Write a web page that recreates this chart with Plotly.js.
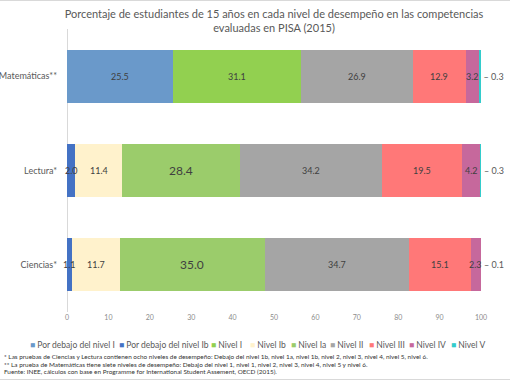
<!DOCTYPE html>
<html>
<head>
<meta charset="utf-8">
<script src="https://cdn.plot.ly/plotly-3.0.1.min.js"></script>
<style>
  html, body { margin: 0; padding: 0; background: #fff; }
  #chart { width: 510px; height: 382px; }
</style>
</head>
<body>
<div id="chart"></div>
<script>
// ---- data ----
const categories = ['Matemáticas**', 'Lectura*', 'Ciencias*'];
const seriesNames = ['Por debajo del nivel I', 'Por debajo del nivel Ib', 'Nivel I', 'Nivel Ib', 'Nivel Ia', 'Nivel II', 'Nivel III', 'Nivel IV', 'Nivel V'];
const debajoNivelI  = [25.5, null, null];
const debajoNivelIb = [null, 2.0, 1.1];
const nivelI        = [31.1, null, null];
const nivelIb       = [null, 11.4, 11.7];
const nivelIa       = [null, 28.4, 35.0];
const nivelII       = [26.9, 34.2, 34.7];
const nivelIII      = [12.9, 19.5, 15.1];
const nivelIV       = [3.2, 4.2, 2.3];
const nivelV        = [0.3, 0.3, 0.1];
const xTickVals = [0, 10, 20, 30, 40, 50, 60, 70, 80, 90, 100];
const titleText = 'Porcentaje de estudiantes de 15 años en cada nivel de desempeño en las competencias<br>evaluadas en PISA (2015)';
const footnotes = [
  '* Las pruebas de Ciencias y Lectura contienen ocho niveles de desempeño: Debajo del nivel 1b, nivel 1a, nivel 1b, nivel 2, nivel 3, nivel 4, nivel 5, nivel 6.',
  '** La prueba de Matemáticas tiene siete niveles de desempeño: Debajo del nivel 1, nivel 1, nivel 2, nivel 3, nivel 4, nivel 5 y nivel 6.',
  'Fuente: INEE, cálculos con base en Programme for International Student Assement, OECD (2015).'
];

// ---- styles ----
const colors = ['#6a99ca', '#4472c4', '#92d050', '#fff2cc', '#9bcc6b', '#a5a5a5', '#ff7878', '#c6689c', '#33cccc'];
const allSeries = [debajoNivelI, debajoNivelIb, nivelI, nivelIb, nivelIa, nivelII, nivelIII, nivelIV, nivelV];
const FONT = 'Lato, "Open Sans", sans-serif';
const W = 510, H = 382, L = 67, R = 29, T = 29, B = 70;
const px2x = p => (p - L) / (W - L - R);
const px2y = p => (H - B - p) / (H - T - B);

const fmt = v => (v == null ? '' : v.toFixed(1));

const traces = allSeries.map((vals, i) => {
  const isLast = i === allSeries.length - 1;
  return {
    type: 'bar',
    orientation: 'h',
    name: seriesNames[i],
    y: categories,
    x: vals,
    width: 0.56,
    marker: { color: colors[i], line: { width: 0 } },
    text: isLast ? vals.map(v => '– ' + fmt(v)) : undefined,
    textposition: isLast ? 'outside' : 'none',
    textangle: 0,
    constraintext: 'none',
    cliponaxis: false,
    textfont: { family: FONT, color: '#595959', size: 9 },
    hoverinfo: 'x+name'
  };
});

const annotations = [];
// inside labels, drawn on top of all bars (centered on each segment)
const cum = categories.map(() => 0);
allSeries.forEach((vals, i) => {
  const isLast = i === allSeries.length - 1;
  vals.forEach((v, j) => {
    if (v == null) return;
    if (!isLast) {
      const big = seriesNames[i] === 'Nivel Ia' && v > 25;
      annotations.push({
        xref: 'x', yref: 'y',
        x: cum[j] + v / 2, y: categories[j],
        showarrow: false,
        text: fmt(v),
        font: { family: FONT, color: '#404040', size: big ? 12 : 9 }
      });
    }
    cum[j] += v;
  });
});

// custom legend (one row, compact as in reference)
const legendPx = [28, 117, 209, 248, 289, 328, 367, 407, 449];
seriesNames.forEach((n, i) => annotations.push({
  xref: 'paper', yref: 'paper',
  x: px2x(legendPx[i]), y: px2y(345),
  xanchor: 'left', yanchor: 'middle',
  showarrow: false,
  text: '<span style="color:' + colors[i] + '">■</span> ' + n,
  font: { family: FONT, size: 8.5, color: '#595959' }
}));
const footY = [356, 364, 371.5];
footnotes.forEach((f, i) => {
  annotations.push({
    xref: 'paper', yref: 'paper',
    x: px2x(2), y: px2y(footY[i]),
    xanchor: 'left', yanchor: 'middle',
    showarrow: false,
    text: f,
    font: { family: FONT, size: 6.4, color: '#333333' }
  });
});

const layout = {
  width: W, height: H,
  margin: { l: L, r: R, t: T, b: B, pad: 0 },
  paper_bgcolor: '#ffffff',
  plot_bgcolor: '#ffffff',
  barmode: 'stack',
  showlegend: false,
  title: {
    text: titleText,
    font: { family: FONT, size: 11, color: '#595959' },
    x: 0.5, xref: 'paper', xanchor: 'center',
    y: 1 - 18 / H, yref: 'container', yanchor: 'top'
  },
  xaxis: {
    range: [0, 100],
    tickvals: xTickVals,
    showgrid: false,
    zeroline: true, zerolinecolor: '#d9d9d9', zerolinewidth: 1,
    showline: false, ticks: '',
    tickfont: { family: FONT, size: 7, color: '#8c8c8c' },
    fixedrange: true
  },
  yaxis: {
    autorange: 'reversed',
    showgrid: false, zeroline: false, showline: false, ticks: '',
    ticklabelstandoff: 9,
    tickfont: { family: FONT, size: 9, color: '#595959' },
    fixedrange: true
  },
  annotations: annotations,
  shapes: [
    { type: 'line', xref: 'paper', yref: 'paper', x0: px2x(0), x1: px2x(W), y0: px2y(0.5), y1: px2y(0.5), line: { color: '#d9d9d9', width: 1 } },
    { type: 'line', xref: 'paper', yref: 'paper', x0: px2x(0), x1: px2x(W), y0: px2y(379.5), y1: px2y(379.5), line: { color: '#d9d9d9', width: 1 } }
  ]
};

Plotly.newPlot('chart', traces, layout, { displayModeBar: false, staticPlot: true });
</script>
</body>
</html>
